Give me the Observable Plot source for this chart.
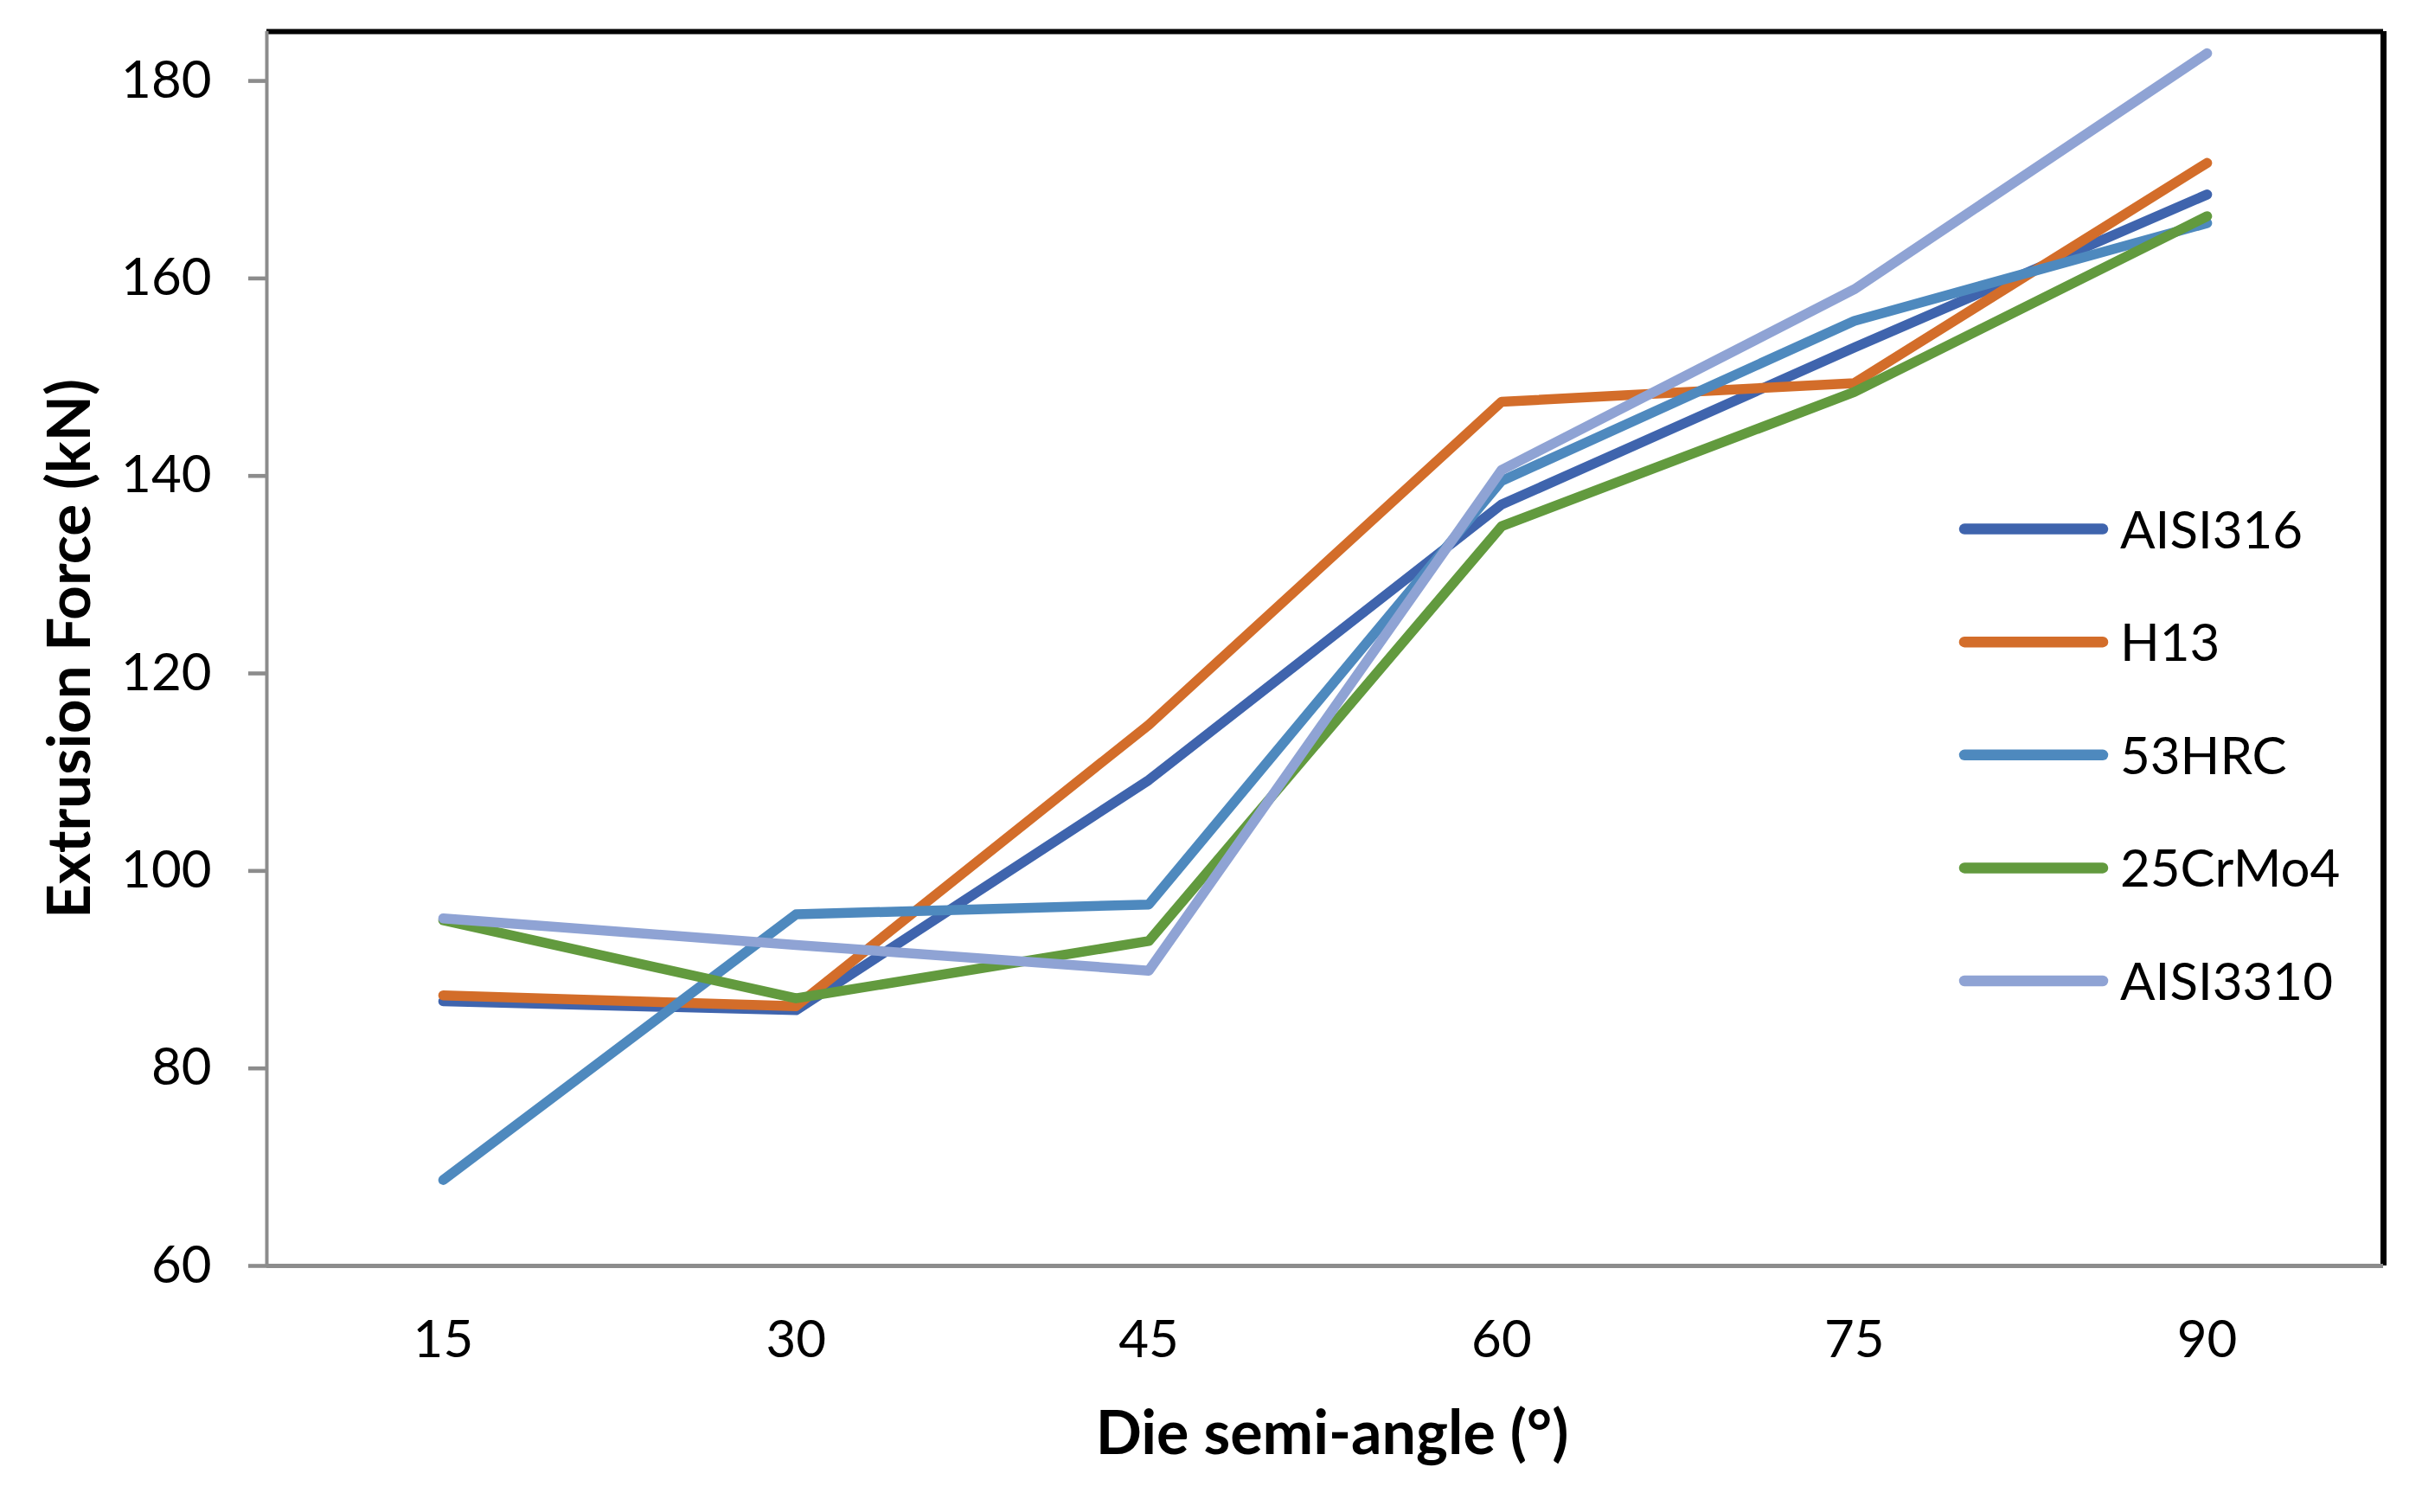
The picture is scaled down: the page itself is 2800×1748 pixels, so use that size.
<!DOCTYPE html>
<html>
<head>
<meta charset="utf-8">
<script src="https://cdn.jsdelivr.net/npm/d3@7"></script>
<script src="https://cdn.jsdelivr.net/npm/@observablehq/plot@0.6"></script>
<style>
  html, body { margin: 0; padding: 0; background: white; }
  #wrap { position: relative; width: 2800px; height: 1748px; }
  #legend { position: absolute; left: 0; top: 0; pointer-events: none; }
</style>
</head>
<body>
<div id="wrap"></div>
<script>
// ---- data ----
const angles = [15, 30, 45, 60, 75, 90];
const seriesNames = ["AISI316", "H13", "53HRC", "25CrMo4", "AISI3310"];
const AISI316  = [86.8, 85.9, 109.2, 137.1, 153.0, 168.5];
const H13      = [87.4, 86.3, 114.8, 147.5, 149.4, 171.7];
const HRC53    = [68.7, 95.6, 96.6, 139.5, 155.7, 165.6];
const CrMo4_25 = [95.0, 87.1, 92.9, 134.9, 148.5, 166.3];
const AISI3310 = [95.2, 92.5, 89.9, 140.6, 158.9, 182.8];
const seriesColors = ["#3F64AD", "#D36D2A", "#4E89BE", "#629A3E", "#8FA3D4"];
const yTicks = [60, 80, 100, 120, 140, 160, 180];
const xLabel = "Die semi-angle (°)";
const yLabel = "Extrusion Force (kN)";

const seriesValues = [AISI316, H13, HRC53, CrMo4_25, AISI3310];
const rows = [];
seriesNames.forEach((name, i) => {
  angles.forEach((a, j) => rows.push({series: name, angle: a, value: seriesValues[i][j]}));
});

const xDomain = [7.5, 97.5];
const yDomain = [60, 185];

const chart = Plot.plot({
  width: 2800,
  height: 1748,
  marginLeft: 308,
  marginRight: 45,
  marginTop: 36,
  marginBottom: 285,
  style: {fontFamily: "Lato, sans-serif", background: "white", color: "black"},
  x: {domain: xDomain},
  y: {domain: yDomain},
  color: {domain: seriesNames, range: seriesColors},
  marks: [
    Plot.ruleY([yDomain[1]], {stroke: "black", strokeWidth: 6}),
    Plot.ruleX([xDomain[1]], {stroke: "black", strokeWidth: 7}),
    Plot.axisY({ticks: yTicks, tickSize: 21, tickPadding: 43, stroke: "#8c8c8c", strokeWidth: 4.6,
                fill: "black", fontSize: 60, label: null}),
    Plot.axisX({ticks: angles, tickSize: 0, tickPadding: 63, fill: "black", fontSize: 60, label: null}),
    Plot.ruleX([xDomain[0]], {stroke: "#8c8c8c", strokeWidth: 4}),
    Plot.ruleY([yDomain[0]], {stroke: "#8c8c8c", strokeWidth: 5}),
    Plot.line(rows, {x: "angle", y: "value", stroke: "series", z: "series", strokeWidth: 11.5,
                     strokeLinecap: "round", strokeLinejoin: "round"}),
    Plot.text([yLabel], {text: d => d, frameAnchor: "left", textAnchor: "middle", lineAnchor: "middle",
                         dx: -227, rotate: -90, fontSize: 69, fontWeight: "bold", fill: "black"}),
    Plot.text([xLabel], {text: d => d, frameAnchor: "bottom", textAnchor: "middle", dx: 8, dy: 217,
                         lineAnchor: "bottom", fontSize: 70, fontWeight: "bold", fill: "black"})
  ]
});

const wrap = document.getElementById("wrap");
wrap.appendChild(chart);

// ---- legend overlay ----
const lg = d3.select(wrap).append("svg")
  .attr("id", "legend")
  .attr("width", 2800).attr("height", 1748);
const legendX1 = 2271, legendX2 = 2431, legendTextX = 2451, legendTop = 611.6, legendStep = 130.6;
const item = lg.selectAll("g").data(seriesNames).join("g")
  .attr("transform", (d, i) => `translate(0,${legendTop + i * legendStep})`);
item.append("line")
  .attr("x1", legendX1).attr("x2", legendX2).attr("y1", 0).attr("y2", 0)
  .attr("stroke", (d, i) => seriesColors[i])
  .attr("stroke-width", 12.5).attr("stroke-linecap", "round");
item.append("text")
  .attr("x", legendTextX).attr("y", 22)
  .attr("font-family", "Lato, sans-serif").attr("font-size", 60).attr("fill", "black")
  .text(d => d);
</script>
</body>
</html>
